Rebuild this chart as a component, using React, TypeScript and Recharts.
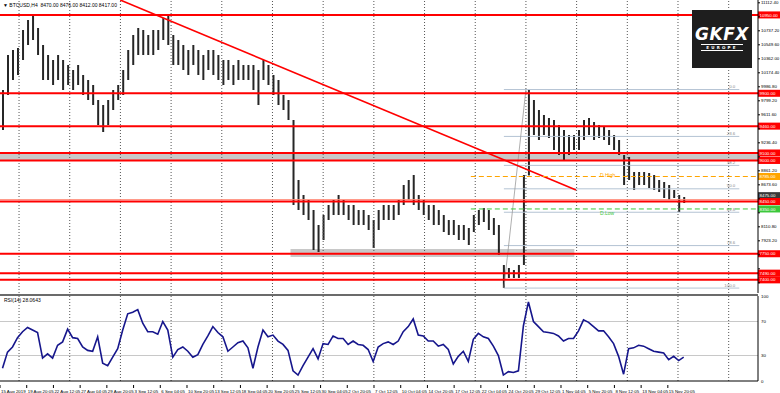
import React from "react"
import {
  ComposedChart,
  Bar,
  Line,
  XAxis,
  YAxis,
  ReferenceLine,
  ReferenceArea,
} from "recharts"

// one candle = 3 H4 bars (12h)
const highs = [
  9944, 10413, 10480, 10507, 10748, 10882, 10949, 10775, 10547, 10413,
  10346, 10413, 10346, 10279, 10212, 10279, 10145, 10078, 10011, 9810,
  9743, 9810, 9944, 10011, 10212, 10480, 10681, 10775, 10748, 10681,
  10748, 10748, 10909, 10949, 10681, 10614, 10547, 10480, 10547, 10480,
  10413, 10480, 10480, 10413, 10346, 10346, 10279, 10346, 10279, 10279,
  10279, 10212, 10346, 10279, 10145, 10078, 9877, 9810, 9542, 8738,
  8537, 8470, 8336, 8135, 8269, 8403, 8470, 8537, 8470, 8403,
  8403, 8336, 8336, 8269, 8202, 8336, 8403, 8403, 8403, 8470,
  8671, 8738, 8805, 8537, 8470, 8403, 8403, 8336, 8269, 8202,
  8202, 8135, 8135, 8095, 8269, 8336, 8363, 8336, 8229, 8135,
  7599, 7559, 7532, 7599, 8805, 9944, 9810, 9676, 9609, 9569,
  9542, 9475, 9408, 9341, 9341, 9408, 9542, 9569, 9515, 9475,
  9448, 9408, 9341, 9274, 9073, 9046, 8845, 8845, 8845, 8832,
  8805, 8738, 8711, 8671, 8604, 8537, 8510,
]
const lows = [
  9408, 9877, 10078, 10145, 10346, 10547, 10614, 10413, 10078, 10078,
  10011, 10078, 9944, 10011, 9944, 10011, 9877, 9810, 9743, 9475,
  9381, 9475, 9676, 9810, 9877, 10078, 10279, 10413, 10413, 10413,
  10413, 10480, 10614, 10547, 10279, 10279, 10212, 10145, 10279, 10145,
  10078, 10212, 10145, 10078, 10011, 10078, 10011, 10078, 10078, 10078,
  9944, 9743, 10078, 10011, 9877, 9743, 9676, 9542, 8403, 8336,
  8269, 8202, 7800, 7773, 7934, 8202, 8269, 8269, 8269, 8202,
  8135, 8135, 8135, 8068, 7827, 8068, 8202, 8202, 8202, 8269,
  8403, 8470, 8403, 8336, 8269, 8202, 8135, 8135, 8041, 8001,
  8001, 7934, 7934, 7867, 8041, 8135, 8175, 8068, 8001, 7733,
  7291, 7425, 7425, 7425, 7599, 8800, 9341, 9274, 9341, 9301,
  9140, 9073, 9006, 9073, 9140, 9140, 9274, 9341, 9274, 9301,
  9274, 9207, 9140, 9073, 8671, 8738, 8604, 8671, 8671, 8631,
  8604, 8577, 8497, 8470, 8497, 8309, 8430,
]
const rsiValues = [
  15, 34, 40, 51, 58, 63, 60, 57, 27, 32,
  27, 42, 46, 61, 51, 50, 40, 36, 35, 52,
  21, 18, 28, 38, 60, 79, 81, 84, 68, 58,
  58, 55, 70, 60, 28, 37, 40, 35, 28, 31,
  43, 53, 64, 57, 52, 35, 40, 45, 47, 39,
  15, 40, 60, 52, 54, 47, 43, 36, 12, 7,
  18, 28, 38, 26, 44, 43, 53, 50, 50, 43,
  47, 43, 42, 37, 23, 40, 44, 46, 43, 47,
  58, 64, 73, 54, 53, 47, 47, 41, 43, 37,
  20, 29, 35, 23, 49, 56, 52, 50, 41, 30,
  7, 11, 10, 12, 65, 93, 70, 64, 58, 57,
  56, 53, 47, 50, 50, 59, 72, 69, 64, 59,
  59, 52, 44, 29, 8, 38, 39, 42, 41, 38,
  35, 34, 33, 25, 29, 24, 28,
]
const timeLabels = [
  "15 Aug 2019", "19 Aug 20:05", "22 Aug 12:05", "27 Aug 04:05", "29 Aug 20:05",
  "3 Sep 12:05", "6 Sep 04:05", "10 Sep 20:05", "13 Sep 12:05", "18 Sep 04:05",
  "20 Sep 20:05", "25 Sep 12:05", "30 Sep 04:05", "2 Oct 20:05", "7 Oct 12:05",
  "10 Oct 04:05", "14 Oct 20:05", "17 Oct 12:05", "22 Oct 04:05", "24 Oct 20:05",
  "29 Oct 12:05", "1 Nov 04:05", "5 Nov 20:05", "8 Nov 12:05", "13 Nov 04:05",
  "15 Nov 20:05",
]
const priceTicks = [
  11112.4, 10924.8, 10737.2, 10549.6, 10362.0, 10174.4, 9986.8, 9799.2, 9611.6,
  9424.0, 9236.4, 9048.8, 8861.2, 8673.6, 8486.0, 8298.4, 8110.8, 7923.2,
  7735.6, 7548.0, 7360.4,
]
const rsiTicks = [0, 30, 70, 100]
const redLevels = [10950, 9900, 9460, 9100, 9000, 8450, 7750, 7490, 7400]
const upperZone = [9000, 9100]
const lowerZone = [7706, 7813]
const lowerZoneBars = [174, 344]
const bidPrice = 8475
const dayHigh = 8785
const dayLow = 8350
const trendFrom = { x: 72, y: 11150 }
const trendTo = { x: 345, y: 8604 }
const fibHigh = 9950
const fibLow = 7290
const fibBars = [301.8, 315, 442.8]
const fibRatios = [0, 23.6, 38.2, 50, 61.8, 78.6, 100]

const BARS_PER_CANDLE = 3
const X_MAX = 454
const PRICE_MIN = 7224
const PRICE_MAX = 11150
const FONT = "'Liberation Sans', Arial, sans-serif"
const SMALL = 4.4

const candles = highs.map((h, i) => ({
  x: i * BARS_PER_CANDLE + 1.5,
  range: [lows[i], h],
}))
const rsiData = rsiValues.map((v, i) => ({ x: i * BARS_PER_CANDLE + 1.5, rsi: v }))
const labelBars = timeLabels.map((_, i) => i * 16)
const gridBars = Array.from({ length: 15 }, (_, k) => 11.4 + 30.36 * k)
const taggedPrices = [...redLevels, bidPrice, dayHigh, dayLow]

function AxisTag(props: any) {
  const { viewBox, text, color, textColor = "#fff", shift = 0 } = props
  if (!viewBox) return null
  const x = viewBox.x + viewBox.width
  const y = viewBox.y + shift
  return (
    <g>
      <rect x={x} y={y - 3.5} width={22} height={7} fill={color} />
      <text x={x + 1.5} y={y + 1.6} fontSize={SMALL} fill={textColor} fontFamily={FONT}>{text}</text>
    </g>
  )
}

function FibTag(props: any) {
  const { viewBox, text } = props
  if (!viewBox) return null
  return (
    <text x={viewBox.x + viewBox.width - 4} y={viewBox.y - 1.5} fontSize={SMALL} fill="#8a8a8a" textAnchor="end" fontFamily={FONT}>
      {text}
    </text>
  )
}

function PriceTick({ x, y, payload }: any) {
  // MT4 covers the scale labels with the object tags
  const hidden = taggedPrices.some((p) => Math.abs(p - payload.value) < 60)
  return (
    <g>
      <line x1={x - 8} x2={x - 6} y1={y} y2={y} stroke="#000" />
      {!hidden && (
        <text x={x - 5} y={y + 1.6} fontSize={SMALL} fill="#000" fontFamily={FONT}>{payload.value.toFixed(2)}</text>
      )}
    </g>
  )
}

function TimeTick({ x, y, payload }: any) {
  const label = timeLabels[Math.round(payload.value / 16)]
  return (
    <g>
      <line x1={x} x2={x} y1={y - 4} y2={y - 1} stroke="#000" />
      <text x={x + 1} y={y + 3.5} fontSize={SMALL} fill="#000" fontFamily={FONT}>{label}</text>
    </g>
  )
}

export default function App() {
  return (
    <div style={{ position: "absolute", left: 0, top: 0, width: 780, height: 393, background: "#fff", overflow: "hidden", fontFamily: FONT }}>
      <ComposedChart width={780} height={293} data={candles} margin={{ top: 0, right: 0, left: 0, bottom: 0 }}>
        <XAxis type="number" dataKey="x" domain={[0, X_MAX]} hide />
        <YAxis
          orientation="right"
          width={22}
          domain={[PRICE_MIN, PRICE_MAX]}
          ticks={priceTicks}
          interval={0}
          tickLine={false}
          axisLine={{ stroke: "#000" }}
          tick={<PriceTick />}
        />
        {gridBars.map((b) => (
          <ReferenceLine key={"g" + b} x={b} stroke="#555" strokeDasharray="1 2" />
        ))}
        <ReferenceArea y1={upperZone[0]} y2={upperZone[1]} fill="#c8c8c8" fillOpacity={1} stroke="none" />
        <ReferenceArea x1={lowerZoneBars[0]} x2={lowerZoneBars[1]} y1={lowerZone[0]} y2={lowerZone[1]} fill="#c8c8c8" fillOpacity={1} stroke="none" />
        {fibRatios.map((r) => {
          const p = fibHigh - ((fibHigh - fibLow) * r) / 100
          return (
            <ReferenceLine
              key={"f" + r}
              segment={[{ x: fibBars[0], y: p }, { x: fibBars[2], y: p }]}
              stroke="#b4c3d3"
              label={<FibTag text={r.toFixed(1)} />}
            />
          )
        })}
        <ReferenceLine segment={[{ x: fibBars[0], y: fibLow }, { x: fibBars[1], y: fibHigh }]} stroke="#9a9a9a" strokeWidth={0.8} />
        <Bar dataKey="range" barSize={2} fill="#262626" isAnimationActive={false} />
        <ReferenceLine segment={[trendFrom, trendTo]} stroke="#ff0000" strokeWidth={1.6} />
        <ReferenceLine segment={[{ x: 282, y: dayHigh }, { x: X_MAX, y: dayHigh }]} stroke="#ffa500" strokeDasharray="5 3"
          label={<AxisTag text={dayHigh.toFixed(2)} color="#ffa500" />} />
        <ReferenceLine segment={[{ x: 282, y: dayLow }, { x: X_MAX, y: dayLow }]} stroke="#3cc83c" strokeDasharray="5 3"
          label={<AxisTag text={dayLow.toFixed(2)} color="#3cc83c" />} />
        <ReferenceLine y={bidPrice} stroke="#ff8c7a" strokeWidth={1}
          label={<AxisTag text={bidPrice.toFixed(2)} color="#3a3a3a" shift={-4} />} />
        {redLevels.map((p) => (
          <ReferenceLine key={"r" + p} y={p} stroke="#ff0000" strokeWidth={2}
            label={<AxisTag text={p.toFixed(2)} color="#ff0000" />} />
        ))}
      </ComposedChart>

      <div style={{ position: "absolute", left: 0, top: 294, width: 758, height: 2, background: "#6b6b6b" }} />

      <div style={{ position: "absolute", left: 0, top: 295 }}>
        <ComposedChart width={780} height={98} data={rsiData} margin={{ top: 1, right: 0, left: 0, bottom: 0 }}>
          <XAxis
            type="number"
            dataKey="x"
            domain={[0, X_MAX]}
            ticks={labelBars}
            interval={0}
            height={12}
            tickLine={false}
            axisLine={{ stroke: "#000" }}
            tick={<TimeTick />}
          />
          <YAxis
            orientation="right"
            width={22}
            domain={[0, 100]}
            ticks={rsiTicks}
            interval={0}
            tickLine={false}
            axisLine={{ stroke: "#000" }}
            tick={({ x, y, payload }: any) => (
              <text x={x - 5} y={y + 1.6} fontSize={SMALL} fill="#000" fontFamily={FONT}>{payload.value}</text>
            )}
          />
          {gridBars.map((b) => (
            <ReferenceLine key={"rg" + b} x={b} stroke="#555" strokeDasharray="1 2" />
          ))}
          <ReferenceLine y={70} stroke="#c8c8c8" />
          <ReferenceLine y={30} stroke="#c8c8c8" />
          <Line type="linear" dataKey="rsi" stroke="#16168c" strokeWidth={1.6} dot={false} isAnimationActive={false} />
        </ComposedChart>
      </div>

      <div style={{ position: "absolute", left: 3, top: 2, fontSize: 5, color: "#000", whiteSpace: "nowrap" }}>
        ▼ BTCUSD,H4&nbsp; 8470.00 8476.00 8412.00 8417.00
      </div>
      <div style={{ position: "absolute", left: 4, top: 297, fontSize: 5, color: "#000", whiteSpace: "nowrap" }}>
        RSI(14) 28.0643
      </div>
      <div style={{ position: "absolute", left: 600, top: 172, fontSize: 5, color: "#ffa500" }}>D.High</div>
      <div style={{ position: "absolute", left: 600, top: 210, fontSize: 5, color: "#3cc83c" }}>D.Low</div>

      <div style={{ position: "absolute", left: 692, top: 10, width: 60, height: 58, background: "#1e1e1e", color: "#fff", textAlign: "center", fontFamily: "'DejaVu Sans', sans-serif" }}>
        <div style={{ marginTop: 15, fontSize: 17, fontWeight: 700, fontStyle: "italic", letterSpacing: 0.5, lineHeight: "18px" }}>GKFX</div>
        <div style={{ fontSize: 4, letterSpacing: 2.2, fontWeight: 700, marginTop: 1, borderTop: "1px solid #fff", borderBottom: "1px solid #fff", width: 42, marginLeft: 9, lineHeight: "5px" }}>EUROPE</div>
      </div>
    </div>
  )
}
